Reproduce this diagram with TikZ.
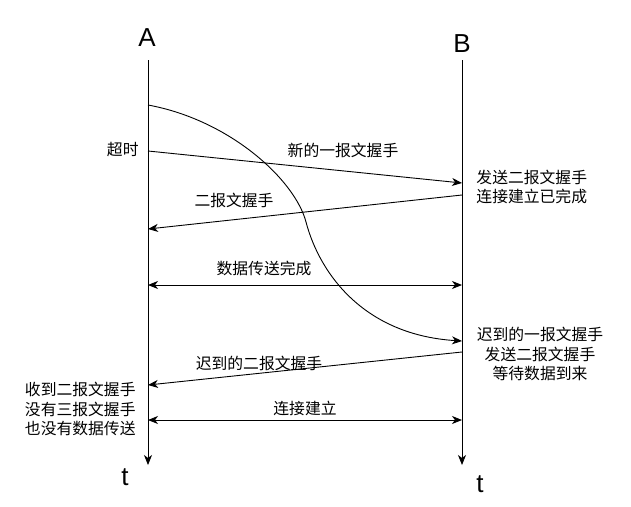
\documentclass[tikz,border=0pt]{standalone}
\usepackage{fontspec}
\setmainfont{Liberation Sans}
\newfontfamily\cjk{Noto Sans CJK SC}
\usetikzlibrary{arrows.meta}
\begin{document}
\begin{tikzpicture}[x=1pt,y=-1pt,line width=0.9pt,
  tip/.tip={Stealth[length=10pt,width=8pt,inset=3pt]},
  arr/.style={-tip},
  darr/.style={tip-tip},
  lbl/.style={font=\cjk\fontsize{15.8}{19.5}\selectfont,inner sep=0pt},
  big/.style={font=\fontsize{26}{30}\selectfont,inner sep=0pt,anchor=base}]
\useasboundingbox (0,0) rectangle (631,506);
% lifelines
\coordinate (Atop) at (148,60);
\coordinate (Abot) at (148,465);
\coordinate (Btop) at (462,60);
\coordinate (Bbot) at (462,465);
\draw[arr] (Atop) -- (Abot);
\draw[arr] (Btop) -- (Bbot);
\node[big] (lA) at (147,46) {A};
\node[big] (lB) at (462,52) {B};
\node[big] (tA) at (125,485) {t};
\node[big] (tB) at (480,492) {t};
% message points
\coordinate (c1) at (148,105);
\coordinate (c2) at (462,341);
\coordinate (m1s) at (148,151);
\coordinate (m1e) at (462,183);
\coordinate (m2s) at (462,195);
\coordinate (m2e) at (148,229);
\coordinate (d1a) at (148,285);
\coordinate (d1b) at (462,285);
\coordinate (m3s) at (462,352);
\coordinate (m3e) at (148,385);
\coordinate (d2a) at (148,420);
\coordinate (d2b) at (462,420);
% delayed first handshake curve
\draw[arr] (c1) .. controls (230,120) and (295,180) .. (306,222)
  .. controls (320,275) and (365,335) .. (c2);
\draw[arr] (m1s) -- (m1e);
\draw[arr] (m2s) -- (m2e);
\draw[darr] (d1a) -- (d1b);
\draw[arr] (m3s) -- (m3e);
\draw[darr] (d2a) -- (d2b);
% labels
\node[lbl,anchor=east] (t1) at (139,150) {超时};
\node[lbl] (t2) at (343,150) {新的一报文握手};
\node[lbl,fill=white] (t3) at (234,200) {二报文握手};
\node[lbl,anchor=west,align=left] (t4) at (476,187) {发送二报文握手\\连接建立已完成};
\node[lbl] (t5) at (264,268) {数据传送完成};
\node[lbl,align=center] (t6) at (540,354) {迟到的一报文握手\\发送二报文握手\\等待数据到来};
\node[lbl] (t7) at (259,363) {迟到的二报文握手};
\node[lbl,anchor=east,align=right] (t8) at (136,409) {收到二报文握手\\没有三报文握手\\也没有数据传送};
\node[lbl] (t9) at (305,408) {连接建立};
\end{tikzpicture}
\end{document}
